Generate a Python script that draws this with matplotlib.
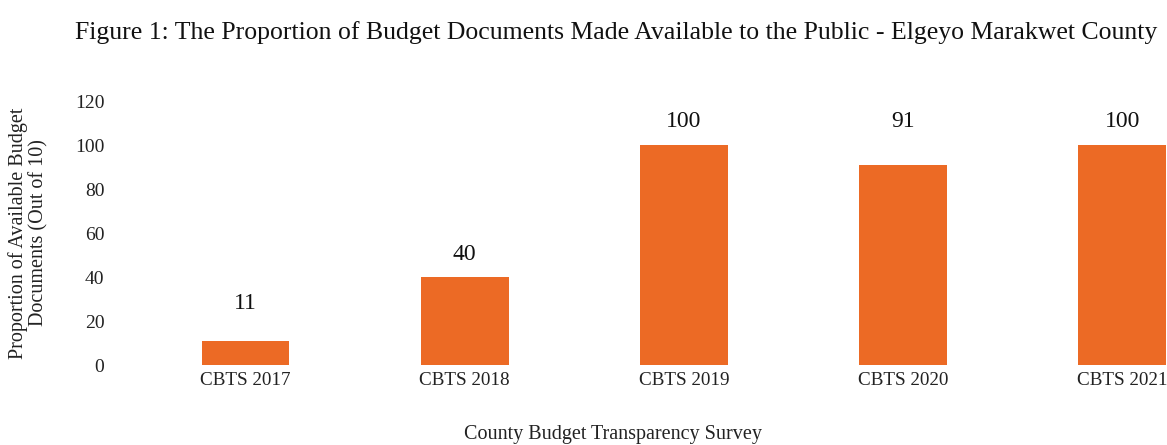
import matplotlib.pyplot as plt

plt.rcParams['font.family'] = ['Liberation Serif', 'DejaVu Serif']

categories = ['CBTS 2017', 'CBTS 2018', 'CBTS 2019', 'CBTS 2020', 'CBTS 2021']
values = [11, 40, 100, 91, 100]
# label heights as drawn in the original (data units above bar top)
label_lift = [17, 10, 10.5, 19.5, 10.5]

fig = plt.figure(figsize=(11.67, 4.45), dpi=100)
ax = fig.add_axes([114 / 1167, 80 / 445, (1166 - 114) / 1167, 264 / 445])

x = range(len(categories))
ax.bar(x, values, width=0.4, color='#EC6A25')

for i, v in enumerate(values):
    ax.text(i, v + label_lift[i], str(v), ha='center', va='center', fontsize=17, color='#111111')

ax.set_xlim(-0.6, 4.2)
ax.set_ylim(0, 120)
ax.set_yticks(range(0, 121, 20))
ax.set_xticks(list(x))
ax.set_xticklabels(categories)
ax.tick_params(axis='both', length=0, colors='#222222')
ax.tick_params(axis='y', pad=7, labelsize=14)
ax.tick_params(axis='x', pad=5, labelsize=13.8)
for s in ax.spines.values():
    s.set_visible(False)

ax.set_ylabel('Proportion of Available Budget\nDocuments (Out of 10)', fontsize=14.5, color='#222222', linespacing=1.1)
ax.yaxis.set_label_coords(-0.062, 0.5)

fig.text(0.525, 0.023, 'County Budget Transparency Survey', ha='center', va='center', fontsize=14.5, color='#222222')
fig.text(0.528, 0.928, 'Figure 1: The Proportion of Budget Documents Made Available to the Public - Elgeyo Marakwet County',
         ha='center', va='center', fontsize=18.5, color='#111111')

fig.savefig('out.png', dpi=100)
